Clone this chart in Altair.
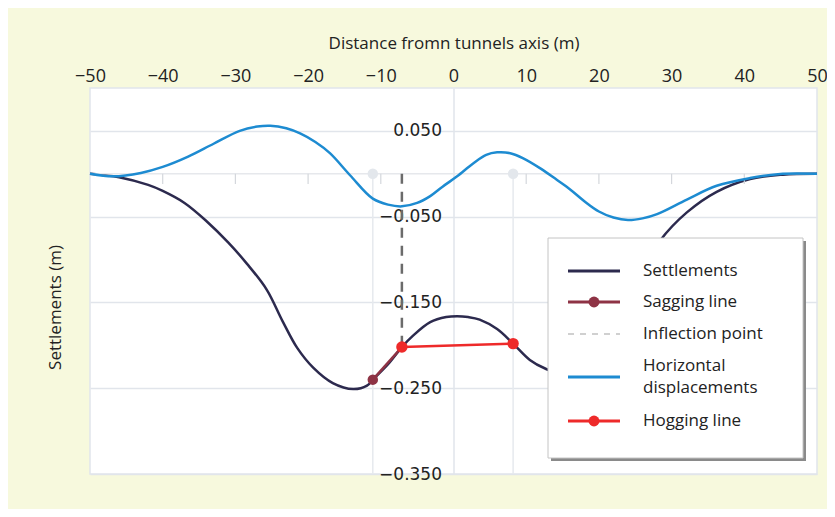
import altair as alt
import pandas as pd

# ---------------- data ----------------
x_settle = [-50, -46, -42, -40, -37, -34, -31, -28.4, -25.7, -23.5, -21.5, -19.3, -16.6,
            -13.8, -11.9, -11.1, -9, -7.1, -5.6, -3.2, -1, 0.5, 2, 3.6, 6, 8.2, 10.5, 12.6,
            14.5, 17, 19.5, 22, 24.5, 26.5, 28.4, 32.1, 36.2, 40.8, 45.3, 50]
y_settle = [0, -0.004, -0.013, -0.02, -0.034, -0.055, -0.080, -0.105, -0.135, -0.172,
            -0.203, -0.226, -0.244, -0.251, -0.247, -0.240, -0.222, -0.202, -0.189, -0.173,
            -0.167, -0.166, -0.167, -0.170, -0.181, -0.198, -0.217, -0.227, -0.232, -0.224,
            -0.202, -0.170, -0.134, -0.105, -0.078, -0.045, -0.021, -0.006, -0.001, 0]

x_horiz = [-50, -46.8, -43, -40, -36.5, -33, -29.4, -27, -25.2, -23, -21.1, -19, -17,
           -14.2, -11.1, -9, -7.1, -5, -3.2, -1.5, 0.5, 2.7, 4.5, 6, 7.8, 9.6, 12, 14.2,
           16, 18, 20, 22, 24, 26, 28, 32.1, 36.2, 40.8, 45.3, 50]
y_horiz = [0, -0.003, 0.001, 0.008, 0.020, 0.035, 0.050, 0.055, 0.056, 0.053, 0.047,
           0.037, 0.024, -0.002, -0.029, -0.036, -0.038, -0.034, -0.026, -0.015, -0.003,
           0.012, 0.022, 0.025, 0.024, 0.018, 0.006, -0.007, -0.018, -0.032, -0.044,
           -0.051, -0.054, -0.052, -0.047, -0.030, -0.014, -0.005, 0, 0]

sag_x = [-11.1, -7.1]
sag_y = [-0.240, -0.202]
hog_x = [-7.1, 8.2]
hog_y = [-0.202, -0.198]
inflection_x = [-7.1]

x_ticks = [-50, -40, -30, -20, -10, 0, 10, 20, 30, 40, 50]
y_ticks = [0.05, -0.05, -0.15, -0.25, -0.35]
zero_ticks = [-40, -30, -20, -10, 10, 20, 30, 40]

legend_labels = ["Settlements", "Sagging line", "Inflection point",
                 "Horizontal|displacements", "Hogging line"]

# ---------------- styles ----------------
NAVY = "#2c2a4e"
BLUE = "#1d8bd1"
SAG = "#8e3345"
HOG = "#ee2a2a"
GRID = "#e1e5eb"
TXT = "#222222"
W, H = 727, 386
XD = [-50, 50]
YD = [-0.35, 0.1]
INTERP = "catmull-rom"

xs = alt.Scale(domain=XD, nice=False, zero=False)
ys = alt.Scale(domain=YD, nice=False, zero=False)

settle_df = pd.DataFrame({"x": x_settle, "y": y_settle})
horiz_df = pd.DataFrame({"x": x_horiz, "y": y_horiz})
sag_df = pd.DataFrame({"x": sag_x, "y": sag_y})
hog_df = pd.DataFrame({"x": hog_x, "y": hog_y})

x_axis = alt.Axis(orient="top", values=x_ticks, title="Distance fromn tunnels axis (m)",
                  grid=False, domain=False, ticks=False, labelFont="Open Sans",
                  labelFontSize=18, labelColor=TXT, labelPadding=3, labelFlush=False,
                  titleFont="Open Sans", titleFontSize=17, titleFontWeight="normal",
                  titleColor=TXT, titlePadding=15)
y_axis = alt.Axis(orient="left", offset=-W / 2, values=y_ticks, format=".3f", grid=True,
                  gridColor=GRID, gridWidth=1.5, domain=True, domainColor=GRID,
                  domainWidth=1.5, ticks=False, labelFont="DejaVu Sans", labelFontSize=17,
                  labelColor=TXT, labelPadding=12, title="Settlements (m)",
                  titleFont="Open Sans", titleFontSize=17, titleFontWeight="normal",
                  titleColor=TXT, titleX=-26 - W / 2, titleY=219)

settle = alt.Chart(settle_df).mark_line(color=NAVY, strokeWidth=2.5, interpolate=INTERP).encode(
    x=alt.X("x:Q", scale=xs, axis=x_axis),
    y=alt.Y("y:Q", scale=ys, axis=y_axis),
)

zero_line = alt.Chart(pd.DataFrame({"y": [0]})).mark_rule(color="#e6e8ec", strokeWidth=1.5).encode(
    y=alt.Y("y:Q", scale=ys))

zt = alt.Chart(pd.DataFrame({"x": zero_ticks, "y": [0] * len(zero_ticks),
                             "y2": [-0.012] * len(zero_ticks)})).mark_rule(
    color="#d4d7dc", strokeWidth=1.2).encode(
    x=alt.X("x:Q", scale=xs), y=alt.Y("y:Q", scale=ys), y2="y2:Q")

drop_df = pd.DataFrame({"x": [sag_x[0], hog_x[1]], "y": [0, 0], "y2": [YD[0], YD[0]]})
drops = alt.Chart(drop_df).mark_rule(color="#e6e9ee", strokeWidth=1.5).encode(
    x=alt.X("x:Q", scale=xs), y=alt.Y("y:Q", scale=ys), y2="y2:Q")
drop_dots = alt.Chart(drop_df).mark_circle(color="#e3e7ec", size=110, opacity=1).encode(
    x=alt.X("x:Q", scale=xs), y=alt.Y("y:Q", scale=ys))

horiz = alt.Chart(horiz_df).mark_line(color=BLUE, strokeWidth=2.5, interpolate=INTERP).encode(
    x=alt.X("x:Q", scale=xs), y=alt.Y("y:Q", scale=ys))

infl = alt.Chart(pd.DataFrame({"x": inflection_x, "y": [0], "y2": [hog_y[0]]})).mark_rule(
    color="#6b6b6b", strokeWidth=2.5, strokeDash=[10, 8]).encode(
    x=alt.X("x:Q", scale=xs), y=alt.Y("y:Q", scale=ys), y2="y2:Q")

sag_line = alt.Chart(sag_df).mark_line(color=SAG, strokeWidth=2.5).encode(
    x=alt.X("x:Q", scale=xs), y=alt.Y("y:Q", scale=ys))
sag_pt = alt.Chart(sag_df.iloc[[0]]).mark_circle(color=SAG, size=110, opacity=1).encode(
    x=alt.X("x:Q", scale=xs), y=alt.Y("y:Q", scale=ys))
hog_line = alt.Chart(hog_df).mark_line(color=HOG, strokeWidth=2.5).encode(
    x=alt.X("x:Q", scale=xs), y=alt.Y("y:Q", scale=ys))
hog_pt = alt.Chart(hog_df).mark_circle(color=HOG, size=130, opacity=1).encode(
    x=alt.X("x:Q", scale=xs), y=alt.Y("y:Q", scale=ys))

# ---------------- legend box (pixel layout) ----------------
one = pd.DataFrame({"a": [0]})
LX0, LX1, LY0, LY1 = 458, 713, 150, 370
shadow = alt.Chart(one).mark_rect(color="#8a8a8a").encode(
    x=alt.value(LX0 + 3), x2=alt.value(LX1 + 3), y=alt.value(LY0 + 3), y2=alt.value(LY1 + 3))
box = alt.Chart(one).mark_rect(color="white", stroke="#c4c4c4", strokeWidth=1).encode(
    x=alt.value(LX0), x2=alt.value(LX1), y=alt.value(LY0), y2=alt.value(LY1))

row_y = [183, 214, 246, 289, 333]
sym_colors = [NAVY, SAG, "#d0d0d0", BLUE, HOG]
sym_dash = [None, None, [6, 6], None, None]
sym_dot = [False, True, False, False, True]
leg_layers = []
for lab, yy, col, dash, dot in zip(legend_labels, row_y, sym_colors, sym_dash, sym_dot):
    kw = dict(color=col, strokeWidth=3)
    if dash:
        kw["strokeDash"] = dash
        kw["strokeWidth"] = 2
    leg_layers.append(alt.Chart(one).mark_rule(**kw).encode(
        x=alt.value(478), x2=alt.value(530), y=alt.value(yy)))
    if dot:
        leg_layers.append(alt.Chart(one).mark_circle(color=col, size=120, opacity=1).encode(
            x=alt.value(504), y=alt.value(yy)))
    parts = lab.split("|")
    for i, p in enumerate(parts):
        ty = yy + (i - (len(parts) - 1) / 2) * 22
        leg_layers.append(alt.Chart(one).mark_text(
            align="left", baseline="middle", font="Open Sans", fontSize=17, color=TXT).encode(
            x=alt.value(553), y=alt.value(ty), text=alt.value(p)))

chart = alt.layer(
    settle, zero_line, zt, drops, drop_dots, horiz, infl, sag_line, sag_pt, hog_line, hog_pt,
    shadow, box, *leg_layers
).properties(
    width=W, height=H,
    autosize=alt.AutoSizeParams(type="none"),
    padding={"left": 82, "top": 80, "right": 10, "bottom": 35},
).configure(
    background="#f7f9dd"
).configure_view(
    fill="white", stroke=GRID, strokeWidth=1.5
)

chart.save("out.html", embed_options={"renderer": "svg", "actions": False})
